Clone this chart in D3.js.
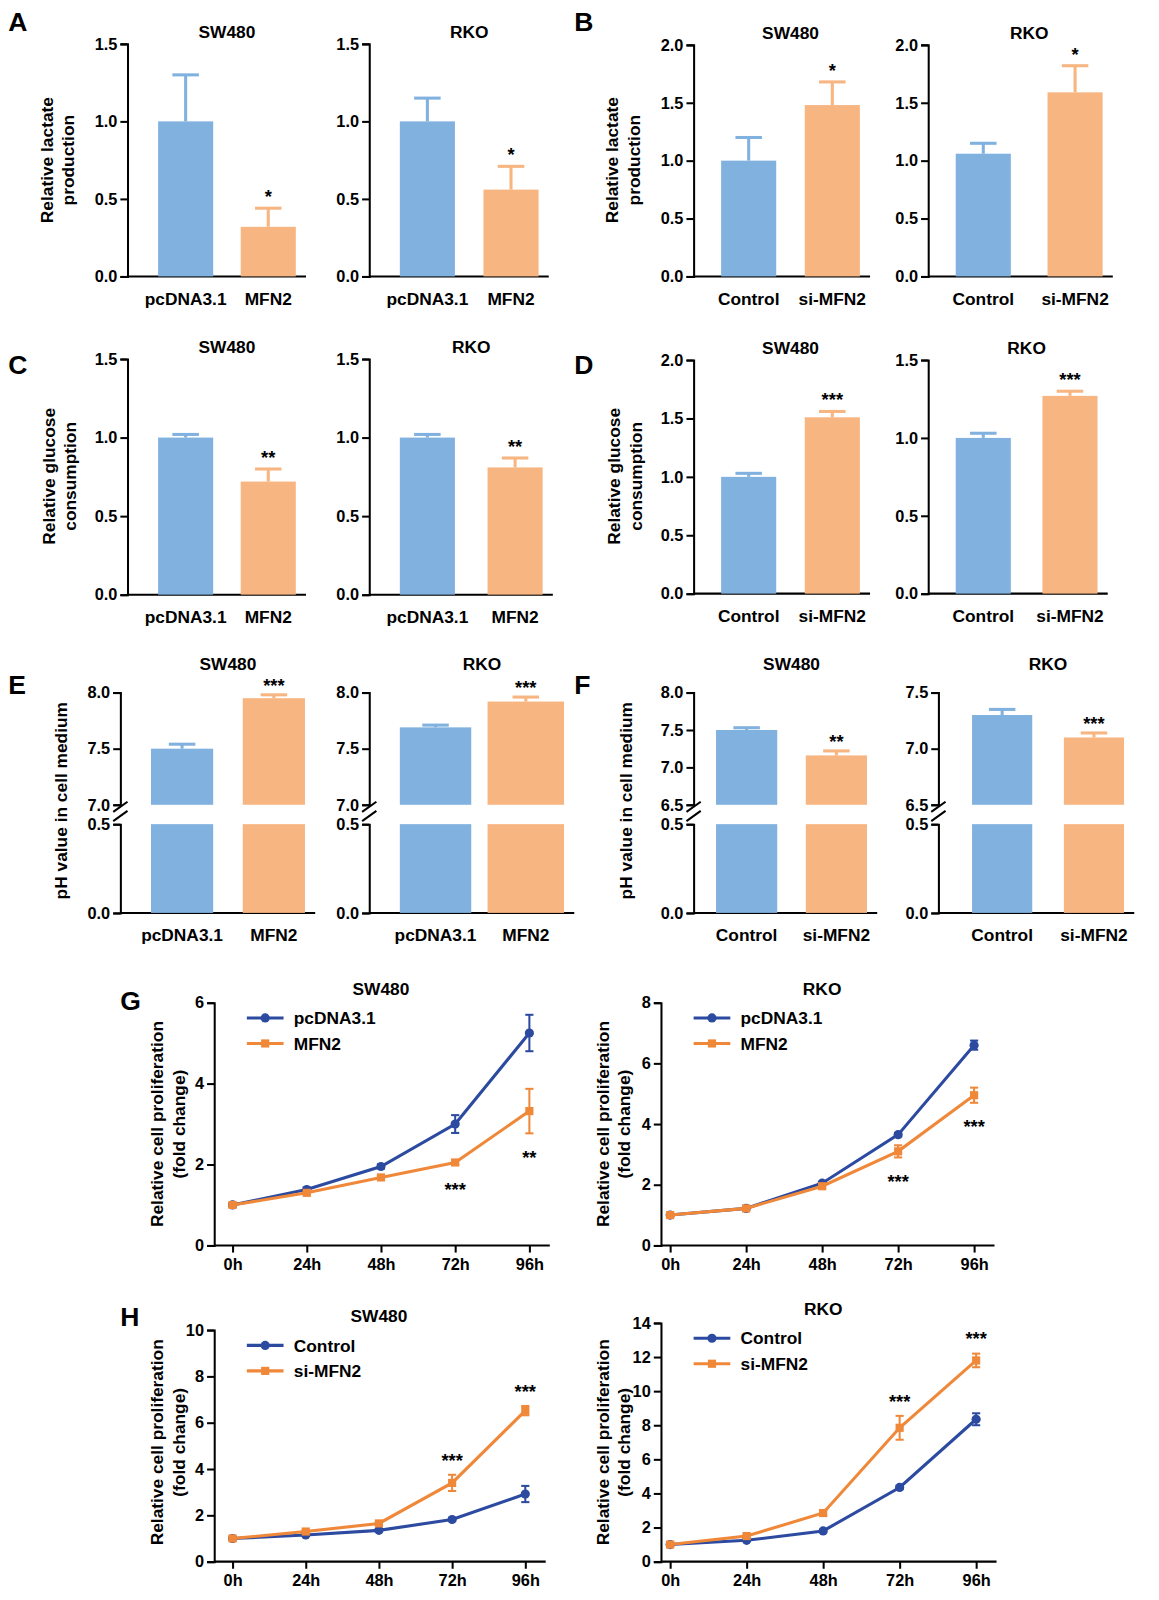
<!DOCTYPE html>
<html><head><meta charset="utf-8">
<script src="https://cdn.jsdelivr.net/npm/d3@7/dist/d3.min.js"></script>
<style>body{margin:0;background:#fff}text{font-family:"Liberation Sans",Arial,sans-serif;font-weight:bold}</style>
</head><body><svg id="c" width="1159" height="1600"></svg>
<script>
// ---- data ----
const ovCats=["pcDNA3.1","MFN2"], siCats=["Control","si-MFN2"];
const A_sw=[1.0,0.32], A_sw_e=[0.30,0.12], A_rko=[1.0,0.56], A_rko_e=[0.15,0.15];
const B_sw=[1.0,1.48], B_sw_e=[0.20,0.20], B_rko=[1.06,1.59], B_rko_e=[0.09,0.23];
const C_sw=[1.0,0.72], C_sw_e=[0.02,0.08], C_rko=[1.0,0.81], C_rko_e=[0.02,0.06];
const D_sw=[1.0,1.51], D_sw_e=[0.03,0.05], D_rko=[1.0,1.27], D_rko_e=[0.03,0.03];
const E_sw=[7.50,7.95], E_sw_e=[0.04,0.03], E_rko=[7.69,7.92], E_rko_e=[0.02,0.04];
const F_sw=[7.50,7.16], F_sw_e=[0.03,0.06], F_rko=[7.30,7.10], F_rko_e=[0.05,0.04];
const sigA=["","*"],sigB=["","*"],sigC=["","**"],sigD=["","***"],sigE=["","***"],sigFsw=["","**"],sigFrko=["","***"];
const times=["0h","24h","48h","72h","96h"];
const G_sw_pc=[1,1.38,1.95,3.0,5.25], G_sw_pc_e=[0.04,0.05,0.05,0.22,0.45];
const G_sw_m=[1,1.30,1.68,2.05,3.32], G_sw_m_e=[0.03,0.04,0.04,0.06,0.55];
const G_rko_pc=[1,1.22,2.05,3.65,6.6], G_rko_pc_e=[0.04,0.04,0.05,0.06,0.15];
const G_rko_m=[1,1.22,1.95,3.1,4.95], G_rko_m_e=[0.04,0.04,0.05,0.2,0.25];
const H_sw_c=[1,1.15,1.35,1.82,2.92], H_sw_c_e=[0.03,0.04,0.05,0.06,0.35];
const H_sw_s=[1,1.30,1.65,3.4,6.52], H_sw_s_e=[0.03,0.05,0.06,0.35,0.2];
const H_rko_c=[1,1.25,1.8,4.35,8.35], H_rko_c_e=[0.05,0.05,0.08,0.1,0.35];
const H_rko_s=[1,1.5,2.85,7.85,11.8], H_rko_s_e=[0.05,0.1,0.15,0.7,0.4];
const sigG_sw=["","","","***","**"], sigG_rko=["","","","***","***"], sigH=["","","","***","***"];

const BLUE="#80b1df", ORANGE="#f7b581", NAVY="#2b4aa0", ORL="#f0883a";
const svg=d3.select("#c").append("g").attr("transform","scale(1.02)");
function txt(x,y,s,size,anchor="middle",rot=0){
  const t=svg.append("text").attr("x",x).attr("y",y).attr("font-size",size).attr("text-anchor",anchor).text(s);
  if(rot) t.attr("transform",`rotate(${rot},${x},${y})`); return t;}
function ylab(x,yc,lines,size=17){lines.forEach((l,i)=>txt(x+i*21,yc,l,size,"middle",-90));}
const st=a=>{a.selectAll("text").attr("font-size",16).attr("fill","#000");a.selectAll("path,line").attr("stroke","#000").attr("stroke-width",2);};

function bar(o){
  const g=svg.append("g");
  const y=d3.scaleLinear().domain([0,o.max]).range([o.y0,o.y1]);
  g.append("g").attr("transform",`translate(${o.ax},0)`).call(d3.axisLeft(y).tickValues(d3.range(0,o.max+1e-9,o.step)).tickFormat(d3.format(".1f")).tickSize(7)).call(st);
  g.append("line").attr("x1",o.ax).attr("x2",o.xr).attr("y1",o.y0).attr("y2",o.y0).attr("stroke","#000").attr("stroke-width",2);
  o.vals.forEach((v,i)=>{const [l,r]=o.bars[i];const c=(l+r)/2,col=i?ORANGE:BLUE;
    g.append("rect").attr("x",l).attr("width",r-l).attr("y",y(v)).attr("height",o.y0-y(v)).attr("fill",col);
    g.append("line").attr("x1",c).attr("x2",c).attr("y1",y(v)).attr("y2",y(v+o.err[i])).attr("stroke",col).attr("stroke-width",3);
    g.append("line").attr("x1",c-13).attr("x2",c+13).attr("y1",y(v+o.err[i])).attr("y2",y(v+o.err[i])).attr("stroke",col).attr("stroke-width",3);
    if(o.sig[i]) txt(c,y(v+o.err[i])-5,o.sig[i],18);
    txt(c,o.y0+28,o.cats[i],17);
  });
  txt((o.bars[0][0]+o.bars[1][1])/2,o.y1-6,o.title,17);
}
function brk(o){
  const g=svg.append("g");
  const yt=d3.scaleLinear().domain([o.lo,o.hi]).range([789,679]);
  const yb=d3.scaleLinear().domain([0,0.5]).range([895,808]);
  g.append("g").attr("transform",`translate(${o.ax},0)`).call(d3.axisLeft(yt).tickValues(o.ticks).tickFormat(d3.format(".1f")).tickSize(7)).call(st);
  g.append("g").attr("transform",`translate(${o.ax},0)`).call(d3.axisLeft(yb).tickValues([0,0.5]).tickFormat(d3.format(".1f")).tickSize(7)).call(st);
  g.append("line").attr("x1",o.ax).attr("x2",o.xr).attr("y1",895).attr("y2",895).attr("stroke","#000").attr("stroke-width",2);
  [791,800].forEach(yy=>g.append("line").attr("x1",o.ax-7).attr("x2",o.ax+7).attr("y1",yy+5).attr("y2",yy-5).attr("stroke","#000").attr("stroke-width",2));
  o.vals.forEach((v,i)=>{const [l,r]=o.bars[i];const c=(l+r)/2,col=i?ORANGE:BLUE;
    g.append("rect").attr("x",l).attr("width",r-l).attr("y",yt(v)).attr("height",789-yt(v)).attr("fill",col);
    g.append("rect").attr("x",l).attr("width",r-l).attr("y",808).attr("height",87).attr("fill",col);
    const e=yt(v+o.err[i]);
    g.append("line").attr("x1",c).attr("x2",c).attr("y1",yt(v)).attr("y2",e).attr("stroke",col).attr("stroke-width",3);
    g.append("line").attr("x1",c-13).attr("x2",c+13).attr("y1",e).attr("y2",e).attr("stroke",col).attr("stroke-width",3);
    if(o.sig[i]) txt(c,e-3,o.sig[i],18);
    txt(c,923,o.cats[i],17);
  });
  txt((o.bars[0][0]+o.bars[1][1])/2,657,o.title,17);
}
function line(o){
  const g=svg.append("g");
  const x=d3.scalePoint().domain(times).range([o.x0,o.x1]);
  const y=d3.scaleLinear().domain([0,o.max]).range([o.y0,o.y1]);
  g.append("g").attr("transform",`translate(${o.ax},0)`).call(d3.axisLeft(y).tickValues(d3.range(0,o.max+1e-9,o.step)).tickFormat(d3.format("d")).tickSize(7)).call(st);
  g.append("g").attr("transform",`translate(0,${o.y0})`).call(d3.axisBottom(x).tickSize(7).tickPadding(6)).call(st)
   .call(a=>a.select("path").attr("d",`M${o.ax},0H${o.x1+20}`));
  o.series.forEach((s,k)=>{const col=k?ORL:NAVY;
    g.append("path").datum(s.v).attr("fill","none").attr("stroke",col).attr("stroke-width",3)
     .attr("d",d3.line().x((d,i)=>x(times[i])).y(d=>y(d)));
    s.v.forEach((d,i)=>{const cx=x(times[i]);
      g.append("line").attr("x1",cx).attr("x2",cx).attr("y1",y(d-s.e[i])).attr("y2",y(d+s.e[i])).attr("stroke",col).attr("stroke-width",2);
      [d-s.e[i],d+s.e[i]].forEach(q=>g.append("line").attr("x1",cx-4).attr("x2",cx+4).attr("y1",y(q)).attr("y2",y(q)).attr("stroke",col).attr("stroke-width",2));
      if(k) g.append("rect").attr("x",cx-4).attr("y",y(d)-4).attr("width",8).attr("height",8).attr("fill",col);
      else g.append("circle").attr("cx",cx).attr("cy",y(d)).attr("r",4.5).attr("fill",col);
    });
    const ly=o.y1+15+k*25;
    g.append("line").attr("x1",o.ax+32).attr("x2",o.ax+68).attr("y1",ly).attr("y2",ly).attr("stroke",col).attr("stroke-width",3);
    if(k) g.append("rect").attr("x",o.ax+46).attr("y",ly-4).attr("width",8).attr("height",8).attr("fill",col);
    else g.append("circle").attr("cx",o.ax+50).attr("cy",ly).attr("r",4.5).attr("fill",col);
    txt(o.ax+78,ly+6,s.name,17,"start");
  });
  o.sig.forEach((s,i)=>{if(s){const sr=o.series[o.sigSeries],d=sr.v[i],e=sr.e[i];
    txt(x(times[i]),o.below?y(d-e)+30:y(d+e)-8,s,18);}});
  txt((o.x0+o.x1)/2,o.y1-8,o.title,17);
}
// Row A/B
bar({ax:125,xr:300,y0:271,y1:43,max:1.5,step:0.5,bars:[[155,209],[236,290]],vals:A_sw,err:A_sw_e,sig:sigA,cats:ovCats,title:"SW480"});
bar({ax:362,xr:538,y0:271,y1:43,max:1.5,step:0.5,bars:[[392,446],[474,528]],vals:A_rko,err:A_rko_e,sig:sigA,cats:ovCats,title:"RKO"});
bar({ax:680,xr:853,y0:271,y1:44,max:2.0,step:0.5,bars:[[707,761],[789,843]],vals:B_sw,err:B_sw_e,sig:sigB,cats:siCats,title:"SW480"});
bar({ax:910,xr:1091,y0:271,y1:44,max:2.0,step:0.5,bars:[[937,991],[1027,1081]],vals:B_rko,err:B_rko_e,sig:sigB,cats:siCats,title:"RKO"});
// Row C/D
bar({ax:125,xr:300,y0:583,y1:352,max:1.5,step:0.5,bars:[[155,209],[236,290]],vals:C_sw,err:C_sw_e,sig:sigC,cats:ovCats,title:"SW480"});
bar({ax:362,xr:542,y0:583,y1:352,max:1.5,step:0.5,bars:[[392,446],[478,532]],vals:C_rko,err:C_rko_e,sig:sigC,cats:ovCats,title:"RKO"});
bar({ax:680,xr:853,y0:582,y1:353,max:2.0,step:0.5,bars:[[707,761],[789,843]],vals:D_sw,err:D_sw_e,sig:sigD,cats:siCats,title:"SW480"});
bar({ax:910,xr:1086,y0:582,y1:353,max:1.5,step:0.5,bars:[[937,991],[1022,1076]],vals:D_rko,err:D_rko_e,sig:sigD,cats:siCats,title:"RKO"});
// Row E/F
brk({ax:118,xr:309,lo:7.0,hi:8.0,ticks:[7.0,7.5,8.0],bars:[[148,209],[238,299]],vals:E_sw,err:E_sw_e,sig:sigE,cats:ovCats,title:"SW480"});
brk({ax:362,xr:563,lo:7.0,hi:8.0,ticks:[7.0,7.5,8.0],bars:[[392,462],[478,553]],vals:E_rko,err:E_rko_e,sig:sigE,cats:ovCats,title:"RKO"});
brk({ax:680,xr:860,lo:6.5,hi:8.0,ticks:[6.5,7.0,7.5,8.0],bars:[[702,762],[790,850]],vals:F_sw,err:F_sw_e,sig:sigFsw,cats:siCats,title:"SW480"});
brk({ax:920,xr:1112,lo:6.5,hi:7.5,ticks:[6.5,7.0,7.5],bars:[[953,1012],[1043,1102]],vals:F_rko,err:F_rko_e,sig:sigFrko,cats:siCats,title:"RKO"});
// Rows G/H
line({ax:210,x0:228,x1:519,y0:1221,y1:983,max:6,step:2,series:[{name:"pcDNA3.1",v:G_sw_pc,e:G_sw_pc_e},{name:"MFN2",v:G_sw_m,e:G_sw_m_e}],sig:sigG_sw,sigSeries:1,below:true,title:"SW480"});
line({ax:648,x0:657,x1:955,y0:1221,y1:983,max:8,step:2,series:[{name:"pcDNA3.1",v:G_rko_pc,e:G_rko_pc_e},{name:"MFN2",v:G_rko_m,e:G_rko_m_e}],sig:sigG_rko,sigSeries:1,below:true,title:"RKO"});
line({ax:210,x0:228,x1:515,y0:1531,y1:1304,max:10,step:2,series:[{name:"Control",v:H_sw_c,e:H_sw_c_e},{name:"si-MFN2",v:H_sw_s,e:H_sw_s_e}],sig:sigH,sigSeries:1,below:false,title:"SW480"});
line({ax:648,x0:657,x1:957,y0:1531,y1:1297,max:14,step:2,series:[{name:"Control",v:H_rko_c,e:H_rko_c_e},{name:"si-MFN2",v:H_rko_s,e:H_rko_s_e}],sig:sigH,sigSeries:1,below:false,title:"RKO"});
// y labels
ylab(52,157,["Relative lactate","production"]);ylab(606,157,["Relative lactate","production"]);
ylab(54,467,["Relative glucose","consumption"]);ylab(608,467,["Relative glucose","consumption"]);
ylab(66,785,["pH value in cell medium"]);ylab(620,785,["pH value in cell medium"]);
[[160,1102],[597,1102],[160,1414],[597,1414]].forEach(p=>ylab(p[0],p[1],["Relative cell proliferation","(fold change)"]));
// panel letters
[["A",8,30],["B",563,30],["C",8,367],["D",563,367],["E",8,680],["F",563,680],["G",118,990],["H",118,1300]].forEach(d=>txt(d[1],d[2],d[0],26,"start"));
</script></body></html>
